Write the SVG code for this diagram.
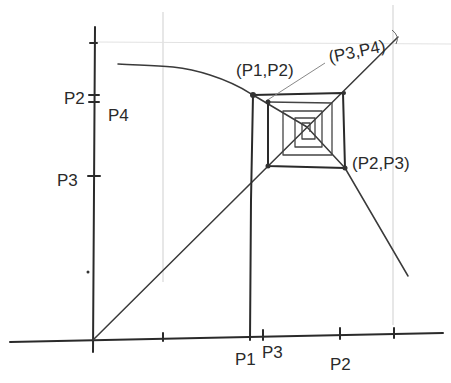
<svg xmlns="http://www.w3.org/2000/svg" width="451" height="383" viewBox="0 0 451 383">
<style>
.faint{stroke:#cfcfcf;stroke-width:1;fill:none}
.axis{stroke:#2a2a2a;stroke-width:2;fill:none;stroke-linecap:round}
.ln{stroke:#3a3a3a;stroke-width:1.5;fill:none;stroke-linecap:round;stroke-linejoin:round}
.bold{stroke:#2a2a2a;stroke-width:2;fill:none;stroke-linecap:round;stroke-linejoin:round}
.web{stroke:#444;stroke-width:1.3;fill:none;stroke-linejoin:round}
.dot{fill:#333}
text{font-family:"Liberation Sans",sans-serif;fill:#2a2a2a;font-size:17px}
</style>
<rect width="451" height="383" fill="#fff"/>
<g id="grid">
<line class="faint" x1="163" y1="12" x2="163" y2="282"/>
<line class="faint" x1="393" y1="5" x2="393" y2="325"/>
<line class="faint" x1="95" y1="42" x2="451" y2="44" style="stroke:#e2e2e2"/>
</g>
<g id="axes">
<path class="axis" d="M95,27 L94,190 L93,352"/>
<path class="axis" d="M10,342 L200,338 L443,333"/>
<line class="axis" x1="163" y1="333" x2="163" y2="341"/>
<line class="axis" x1="263" y1="330" x2="263" y2="340"/>
<line class="axis" x1="340" y1="328" x2="340" y2="339"/>
<line class="axis" x1="394" y1="328" x2="394" y2="338"/>
<line class="axis" x1="90" y1="43" x2="97" y2="43"/>
<line class="axis" x1="89" y1="95" x2="99" y2="95"/>
<line class="axis" x1="89" y1="102" x2="99" y2="102"/>
<line class="axis" x1="88" y1="176" x2="100" y2="176"/>
<circle class="dot" cx="88" cy="272" r="1.5"/>
</g>
<g id="connectors">
<line class="ln" x1="93" y1="340" x2="398" y2="37"/>
<path class="ln" d="M118,64 C150,66 175,64 210,75 C235,83 245,90 253,95 L307,127 L345,168 L408,276"/>
<path class="bold" d="M250,340 L251,200 L253,95 L343,93 L345,168 L268,166 L268,102"/>
<path class="web" d="M268,102 L332,103 L332,155 L283,155 L283,111 L322,111 L322,147 L295,147 L295,118 L315,118 L315,139 L302,139 L302,123 L310,123 L310,132"/>
<line class="faint" x1="266" y1="101" x2="325" y2="63" style="stroke:#888"/>
<path class="faint" d="M392,30 Q400,36 396,44" style="stroke:#666"/>
</g>
<g id="points">
<circle class="dot" cx="253" cy="95" r="3"/>
<circle class="dot" cx="268" cy="102" r="2.5"/>
<circle class="dot" cx="268" cy="166" r="2.5"/>
<circle class="dot" cx="345" cy="168" r="2.5"/>
<circle class="dot" cx="344" cy="93" r="2"/>
</g>
<g id="labels">
<text x="236" y="76">(P1,P2)</text>
<text x="330" y="63" transform="rotate(-12 330 63)">(P3,P4)</text>
<text x="352" y="169">(P2,P3)</text>
<text x="64" y="104">P2</text>
<text x="108" y="121" font-size="15">P4</text>
<text x="57" y="186">P3</text>
<text x="235" y="365">P1</text>
<text x="262" y="358" font-size="15">P3</text>
<text x="330" y="370">P2</text>
</g>
</svg>
